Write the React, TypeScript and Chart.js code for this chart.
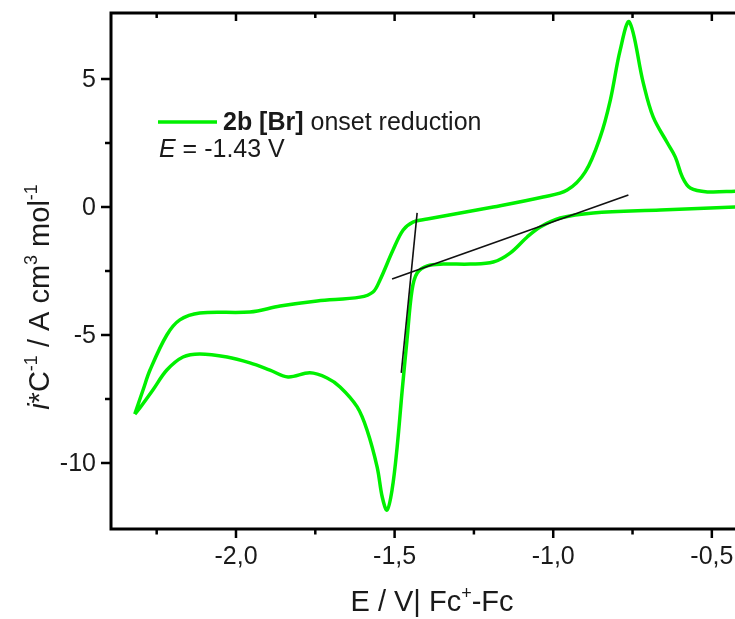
import React, { useEffect, useRef } from 'react';
import { Chart, registerables } from 'chart.js';
Chart.register(...registerables);

const FONT = '"Liberation Sans", Arial, sans-serif';

// axis ranges
const X_MIN = -2.394;
const X_MAX = -0.427;
const Y_MIN = -12.58;
const Y_MAX = 7.58;

// tick values / labels
const xMajorTicks = [-2.0, -1.5, -1.0, -0.5];
const xTickLabels = ['-2,0', '-1,5', '-1,0', '-0,5'];
const xMinorTicks = [-2.25, -1.75, -1.25, -0.75];
const yMajorTicks = [5, 0, -5, -10];
const yTickLabels = ['5', '0', '-5', '-10'];
const yMinorTicks = [2.5, -2.5, -7.5];

// cyclic voltammogram (potential in V, current in A cm3 mol-1)
const cvE = [
  -2.319, -2.293, -2.271, -2.218, -2.177, -2.114, -1.956, -1.861, -1.744, -1.609,
  -1.568, -1.546, -1.505, -1.473, -1.442, -1.397, -1.189, -1.032, -0.956, -0.899,
  -0.852, -0.820, -0.789, -0.760, -0.716, -0.685, -0.640, -0.615, -0.593, -0.568,
  -0.514, -0.426, -0.35, -0.30, -0.35, -0.426, -0.662, -0.874, -0.978, -1.041,
  -1.082, -1.136, -1.189, -1.262, -1.347, -1.397, -1.429, -1.445, -1.461, -1.476,
  -1.492, -1.508, -1.524, -1.539, -1.555, -1.587, -1.618, -1.672, -1.713, -1.767,
  -1.836, -1.893, -1.956, -2.028, -2.114, -2.167, -2.218, -2.262, -2.303, -2.319,
];
const cvI = [
  -8.09, -7.15, -6.37, -5.0, -4.41, -4.14, -4.10, -3.87, -3.67, -3.52,
  -3.32, -2.85, -1.68, -0.90, -0.59, -0.47, 0.0, 0.39, 0.66, 1.37,
  2.73, 4.18, 6.13, 7.23, 4.84, 3.52, 2.50, 1.95, 1.17, 0.74,
  0.59, 0.62, 0.66, 0.4, 0.05, 0.0, -0.12, -0.23, -0.43, -0.78,
  -1.17, -1.80, -2.15, -2.23, -2.23, -2.30, -2.58, -3.24, -5.20, -7.15,
  -9.38, -11.05, -11.84, -11.33, -10.16, -8.71, -7.81, -7.03, -6.68, -6.48,
  -6.64, -6.37, -6.09, -5.86, -5.74, -5.86, -6.37, -7.15, -7.85, -8.09,
];

// onset tangent lines
const tangent1E = [-1.429, -1.479];
const tangent1I = [-0.23, -6.48];
const tangent2E = [-1.508, -0.763];
const tangent2I = [-2.81, 0.47];

const legendLabelBold = '2b [Br]';
const legendLabelRest = ' onset reduction';
const onsetLabel = ' = -1.43 V';

const GREEN = '#00f000';
const TEXT = 25;
const TITLE = 29;

type Part = { t: string; style?: string; sup?: boolean };

function drawRich(ctx: CanvasRenderingContext2D, parts: Part[], x: number, y: number, size: number, align: 'left' | 'center') {
  const supSize = Math.round(size * 0.62);
  const fontFor = (p: Part) => `${p.style ? p.style + ' ' : ''}${p.sup ? supSize : size}px ${FONT}`;
  let total = 0;
  for (const p of parts) {
    ctx.font = fontFor(p);
    total += ctx.measureText(p.t).width;
  }
  let cx = align === 'center' ? x - total / 2 : x;
  ctx.textAlign = 'left';
  ctx.textBaseline = 'alphabetic';
  for (const p of parts) {
    ctx.font = fontFor(p);
    ctx.fillText(p.t, cx, p.sup ? y - size * 0.42 : y);
    cx += ctx.measureText(p.t).width;
  }
}

const axesPlugin = {
  id: 'axesPlugin',
  afterDraw(chart: any) {
    const ctx: CanvasRenderingContext2D = chart.ctx;
    const xs = chart.scales.x;
    const ys = chart.scales.y;
    const { left, right, top, bottom } = chart.chartArea;
    ctx.save();
    ctx.strokeStyle = '#000';
    ctx.fillStyle = '#000';
    ctx.lineCap = 'butt';

    // frame lines
    ctx.lineWidth = 3;
    ctx.beginPath();
    ctx.moveTo(left, top - 1.5);
    ctx.lineTo(left, bottom + 1.5);
    ctx.moveTo(left - 1.5, bottom);
    ctx.lineTo(right + 2, bottom);
    ctx.moveTo(left - 1.5, top);
    ctx.lineTo(right + 2, top);
    ctx.stroke();

    // ticks
    ctx.lineWidth = 2.5;
    ctx.beginPath();
    for (const v of xMajorTicks) {
      const px = xs.getPixelForValue(v);
      ctx.moveTo(px, bottom); ctx.lineTo(px, bottom + 9);
      ctx.moveTo(px, top); ctx.lineTo(px, top + 8);
    }
    for (const v of xMinorTicks) {
      const px = xs.getPixelForValue(v);
      ctx.moveTo(px, bottom); ctx.lineTo(px, bottom + 5.5);
      ctx.moveTo(px, top); ctx.lineTo(px, top + 5);
    }
    for (const v of yMajorTicks) {
      const py = ys.getPixelForValue(v);
      ctx.moveTo(left, py); ctx.lineTo(left - 10, py);
    }
    for (const v of yMinorTicks) {
      const py = ys.getPixelForValue(v);
      ctx.moveTo(left, py); ctx.lineTo(left - 6, py);
    }
    ctx.stroke();

    // tick labels
    ctx.font = `${TEXT}px ${FONT}`;
    ctx.fillStyle = '#1a1a1a';
    ctx.textAlign = 'center';
    ctx.textBaseline = 'middle';
    xMajorTicks.forEach((v, i) => {
      ctx.fillText(xTickLabels[i], xs.getPixelForValue(v), bottom + 28);
    });
    ctx.textAlign = 'right';
    yMajorTicks.forEach((v, i) => {
      ctx.fillText(yTickLabels[i], left - 15, ys.getPixelForValue(v) + 1);
    });

    // x title
    drawRich(ctx, [
      { t: 'E / V| Fc' }, { t: '+', sup: true }, { t: '-Fc' },
    ], 432, 611, TITLE, 'center');

    // y title (rotated)
    ctx.save();
    ctx.translate(49, 297);
    ctx.rotate(-Math.PI / 2);
    drawRich(ctx, [
      { t: 'i', style: 'italic' }, { t: '*C' }, { t: '-1', sup: true },
      { t: ' / A cm' }, { t: '3', sup: true }, { t: ' mol' }, { t: '-1', sup: true },
    ], 0, 0, TITLE, 'center');
    ctx.restore();

    // legend
    ctx.strokeStyle = GREEN;
    ctx.lineWidth = 3.5;
    ctx.beginPath();
    ctx.moveTo(158, 122);
    ctx.lineTo(217, 122);
    ctx.stroke();
    drawRich(ctx, [
      { t: legendLabelBold, style: 'bold' }, { t: legendLabelRest },
    ], 223, 130, TEXT, 'left');
    drawRich(ctx, [
      { t: 'E', style: 'italic' }, { t: onsetLabel },
    ], 159, 157, TEXT, 'left');

    ctx.restore();
  },
};

export default function App() {
  const ref = useRef<HTMLCanvasElement>(null);
  useEffect(() => {
    const cv = cvE.map((x, i) => ({ x, y: cvI[i] }));
    const t1 = tangent1E.map((x, i) => ({ x, y: tangent1I[i] }));
    const t2 = tangent2E.map((x, i) => ({ x, y: tangent2I[i] }));
    const chart = new Chart(ref.current as HTMLCanvasElement, {
      type: 'scatter',
      data: {
        datasets: [
          { data: cv, showLine: true, borderColor: GREEN, backgroundColor: GREEN, borderWidth: 3.5, pointRadius: 0, tension: 0.35, order: 2 },
          { data: t1, showLine: true, borderColor: '#111', borderWidth: 1.6, pointRadius: 0, tension: 0, order: 1 },
          { data: t2, showLine: true, borderColor: '#111', borderWidth: 1.6, pointRadius: 0, tension: 0, order: 1 },
        ],
      },
      options: {
        animation: false,
        responsive: false,
        maintainAspectRatio: false,
        layout: { padding: { top: 13, left: 0, right: 0, bottom: 0 } },
        plugins: { legend: { display: false }, tooltip: { enabled: false } },
        scales: {
          x: {
            type: 'linear', min: X_MIN, max: X_MAX,
            ticks: { display: false }, grid: { display: false }, border: { display: false },
            afterFit: (s: any) => { s.height = 90; },
          },
          y: {
            type: 'linear', min: Y_MIN, max: Y_MAX,
            ticks: { display: false }, grid: { display: false }, border: { display: false },
            afterFit: (s: any) => { s.width = 111; },
          },
        },
      },
      plugins: [axesPlugin],
    });
    return () => chart.destroy();
  }, []);
  return (
    <div style={{ position: 'fixed', left: 0, top: 0, width: 735, height: 619, background: '#fff' }}>
      <canvas ref={ref} width={735} height={619} style={{ display: 'block' }} />
    </div>
  );
}
